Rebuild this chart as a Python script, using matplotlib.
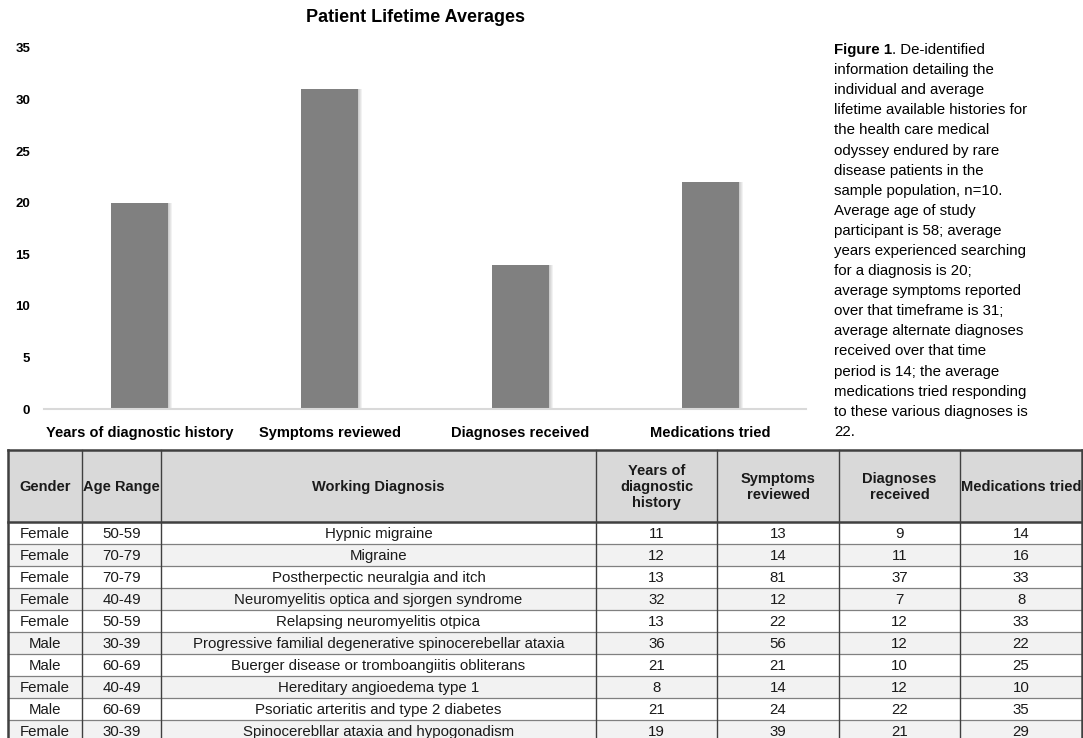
import matplotlib.pyplot as plt
from matplotlib.patches import Rectangle

plt.rcParams['font.family'] = ['Liberation Sans', 'DejaVu Sans']

# chart data
categories = ["Years of diagnostic history", "Symptoms reviewed",
              "Diagnoses received", "Medications tried"]
averages = [20, 31, 14, 22]
yticks = [0, 5, 10, 15, 20, 25, 30, 35]

# table data
headers = ["Gender", "Age Range", "Working Diagnosis", "Years of\ndiagnostic\nhistory",
           "Symptoms\nreviewed", "Diagnoses\nreceived", "Medications tried"]
genders = ["Female", "Female", "Female", "Female", "Female", "Male", "Male",
           "Female", "Male", "Female"]
age_ranges = ["50-59", "70-79", "70-79", "40-49", "50-59", "30-39", "60-69",
              "40-49", "60-69", "30-39"]
diagnoses = ["Hypnic migraine", "Migraine", "Postherpectic neuralgia and itch",
             "Neuromyelitis optica and sjorgen syndrome", "Relapsing neuromyelitis otpica",
             "Progressive familial degenerative spinocerebellar ataxia",
             "Buerger disease or tromboangiitis obliterans", "Hereditary angioedema type 1",
             "Psoriatic arteritis and type 2 diabetes", "Spinocerebllar ataxia and hypogonadism"]
years_history = [11, 12, 13, 32, 13, 36, 21, 8, 21, 19]
symptoms = [13, 14, 81, 12, 22, 56, 21, 14, 24, 39]
diag_received = [9, 11, 37, 7, 12, 12, 10, 12, 22, 21]
meds_tried = [14, 16, 33, 8, 33, 22, 25, 10, 35, 29]

caption = ["information detailing the", "individual and average",
           "lifetime available histories for", "the health care medical",
           "odyssey endured by rare", "disease patients in the",
           "sample population, n=10.", "Average age of study",
           "participant is 58; average", "years experienced searching",
           "for a diagnosis is 20;", "average symptoms reported",
           "over that timeframe is 31;", "average alternate diagnoses",
           "received over that time", "period is 14; the average",
           "medications tried responding", "to these various diagnoses is", "22."]

W, H = 1083, 738
fig = plt.figure(figsize=(W / 100, H / 100), dpi=100)

# ---- bar chart ----
ax = fig.add_axes([44 / W, 1 - 409 / H, (806 - 44) / W, (409 - 48) / H])
x = range(len(categories))
px = 1 / 190.5
for k in range(1, 5):
    ax.bar([i + k * px for i in x], averages, width=0.30, color='#000000',
           alpha=0.05, zorder=1, linewidth=0)
ax.bar(x, averages, width=0.30, color='#808080', zorder=2)
ax.set_xlim(-0.5, 3.5)
ax.set_ylim(0, 35)
ax.set_yticks(yticks)
ax.set_xticks(list(x))
ax.set_xticklabels(categories, fontsize=10.5, fontweight='bold')
ax.tick_params(axis='y', length=0, pad=10, labelsize=9.5)
ax.tick_params(axis='x', length=0, pad=12)
for lab in ax.get_yticklabels():
    lab.set_fontweight('bold')
for s in ['top', 'right', 'left']:
    ax.spines[s].set_visible(False)
ax.spines['bottom'].set_color('#d9d9d9')
ax.spines['bottom'].set_linewidth(1.5)
fig.text(416 / W, 1 - 17 / H, "Patient Lifetime Averages", ha='center', va='center',
         fontsize=13, fontweight='bold')

# ---- caption ----
renderer = fig.canvas.get_renderer()
t = fig.text(834 / W, 1 - 50 / H, "Figure 1", fontsize=10.8, fontweight='bold', va='center')
bb = t.get_window_extent(renderer)
fig.text(bb.x1 / W, 1 - 50 / H, ". De-identified", fontsize=10.8, va='center')
for i, line in enumerate(caption):
    fig.text(834 / W, 1 - (50 + 20.1 * (i + 1)) / H, line, fontsize=10.8, va='center')

# ---- table ----
tx = fig.add_axes([0, 0, 1, 1], zorder=-1)
tx.set_xlim(0, W)
tx.set_ylim(H, 0)
tx.axis('off')
cols = [8, 82, 161, 596, 717, 839, 960, 1082]
top, head_bot, row_h = 450, 522, 22
n = len(genders)

tx.add_patch(Rectangle((cols[0], top), cols[-1] - cols[0], head_bot - top,
                       facecolor='#d9d9d9', edgecolor='none'))
for r in range(n):
    y0 = head_bot + r * row_h
    fc = '#ffffff' if r % 2 == 0 else '#f2f2f2'
    tx.add_patch(Rectangle((cols[0], y0), cols[-1] - cols[0], row_h,
                           facecolor=fc, edgecolor='none'))
    if r > 0:
        tx.plot([cols[0], cols[-1]], [y0, y0], color='#808080', lw=0.9)
bottom = head_bot + n * row_h
for c in cols:
    lw = 1.8 if c in (cols[0], cols[-1]) else 1.0
    tx.plot([c, c], [top, bottom], color='#404040', lw=lw)
tx.plot([cols[0], cols[-1]], [top, top], color='#404040', lw=1.8)
tx.plot([cols[0], cols[-1]], [head_bot, head_bot], color='#404040', lw=1.8)

for j, h in enumerate(headers):
    tx.text((cols[j] + cols[j + 1]) / 2, (top + head_bot) / 2 + 1, h, ha='center',
            va='center', fontsize=10.5, fontweight='bold', linespacing=1.15,
            color='#1a1a1a')

columns = [genders, age_ranges, diagnoses, years_history, symptoms, diag_received, meds_tried]
for j, col in enumerate(columns):
    for r, v in enumerate(col):
        tx.text((cols[j] + cols[j + 1]) / 2, head_bot + r * row_h + row_h / 2 + 1, str(v),
                ha='center', va='center', fontsize=10.8, color='#1a1a1a')

fig.savefig('out.png', dpi=100)
